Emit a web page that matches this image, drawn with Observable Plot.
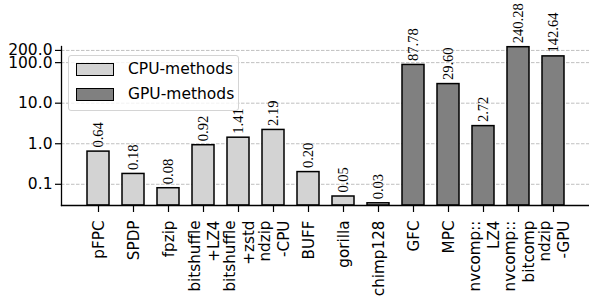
<!DOCTYPE html>
<html><head><meta charset="utf-8">
<script src="https://cdn.jsdelivr.net/npm/d3@7"></script>
<script src="https://cdn.jsdelivr.net/npm/@observablehq/plot@0.6"></script>
<style>
body{margin:0;background:#fff;}
#wrap{position:relative;width:589px;height:296px;}
.legend{position:absolute;left:68px;top:55px;width:171px;height:56px;border:1px solid #d4d4d4;border-radius:3px;background:rgba(255,255,255,0.8);font-family:"DejaVu Sans";font-size:15.5px;color:#000;box-sizing:border-box;}
.sw{position:absolute;left:7px;width:38px;height:13px;border:1.5px solid #000;box-sizing:border-box;}
.lb{position:absolute;left:59px;line-height:18px;}
</style>
</head><body>
<div id="wrap"></div>
<script>
const methods = ["pFPC","SPDP","fpzip","bitshuffle\n+LZ4","bitshuffle\n+zstd","ndzip\n-CPU","BUFF","gorilla","chimp128","GFC","MPC","nvcomp::\nLZ4","nvcomp::\nbitcomp","ndzip\n-GPU"];
const values = [0.64,0.18,0.08,0.92,1.41,2.19,0.20,0.05,0.034,87.78,29.60,2.72,240.28,142.64];
const groups = ["CPU","CPU","CPU","CPU","CPU","CPU","CPU","CPU","CPU","GPU","GPU","GPU","GPU","GPU"];
const groupNames = ["CPU","GPU"];
const legendLabels = ["CPU-methods","GPU-methods"];
const groupColors = ["#d3d3d3","#808080"];
const yTicks = [0.1,1,10,100,200];
const yDomain = [0.03,250];

const data = methods.map((m,i)=>({method:m, value:values[i], group:groups[i]}));

const plot = Plot.plot({
  width:589, height:296,
  marginLeft:61, marginRight:0, marginTop:46, marginBottom:91,
  style:{fontFamily:"DejaVu Sans", fontSize:"15px", color:"#000", background:"#fff", overflow:"visible"},
  x:{domain:methods, paddingInner:0.38, paddingOuter:0.65, axis:null},
  y:{type:"log", domain:yDomain, axis:null},
  color:{domain:groupNames, range:groupColors},
  marks:[
    Plot.gridY({ticks:yTicks, stroke:"#b0b0b0", strokeOpacity:1, strokeDasharray:"3.5,1.5", strokeWidth:0.8}),
    Plot.barY(data, {x:"method", y1:()=>yDomain[0], y2:"value", fill:"group", stroke:"#000", strokeWidth:1.5}),
    Plot.text(data, {x:"method", y:"value", text:d=>d.value.toFixed(2), rotate:-90, textAnchor:"start", dy:-4, fontFamily:"Liberation Serif", fontSize:14.5, fill:"#000"}),
    Plot.axisY({ticks:yTicks, tickFormat:d=>d.toFixed(1), tickSize:6, tickPadding:3, fontSize:15.5, strokeWidth:1.2, label:null}),
    Plot.axisX({tickRotate:-90, tickSize:7, tickPadding:8, fontSize:15.2, lineHeight:1.22, strokeWidth:1.2, label:null}),
    Plot.frame({anchor:"left", stroke:"#000", strokeWidth:1.3}),
    Plot.frame({anchor:"bottom", stroke:"#000", strokeWidth:1.3})
  ]
});
const wrap = document.getElementById("wrap");
wrap.appendChild(plot);

const lg = document.createElement("div");
lg.className = "legend";
groupNames.forEach((g,i)=>{
  const sw = document.createElement("div");
  sw.className = "sw";
  sw.style.top = (7 + i*25) + "px";
  sw.style.background = groupColors[i];
  lg.appendChild(sw);
  const lb = document.createElement("div");
  lb.className = "lb";
  lb.style.top = (4 + i*25) + "px";
  lb.textContent = legendLabels[i];
  lg.appendChild(lb);
});
wrap.appendChild(lg);
</script>
</body></html>
